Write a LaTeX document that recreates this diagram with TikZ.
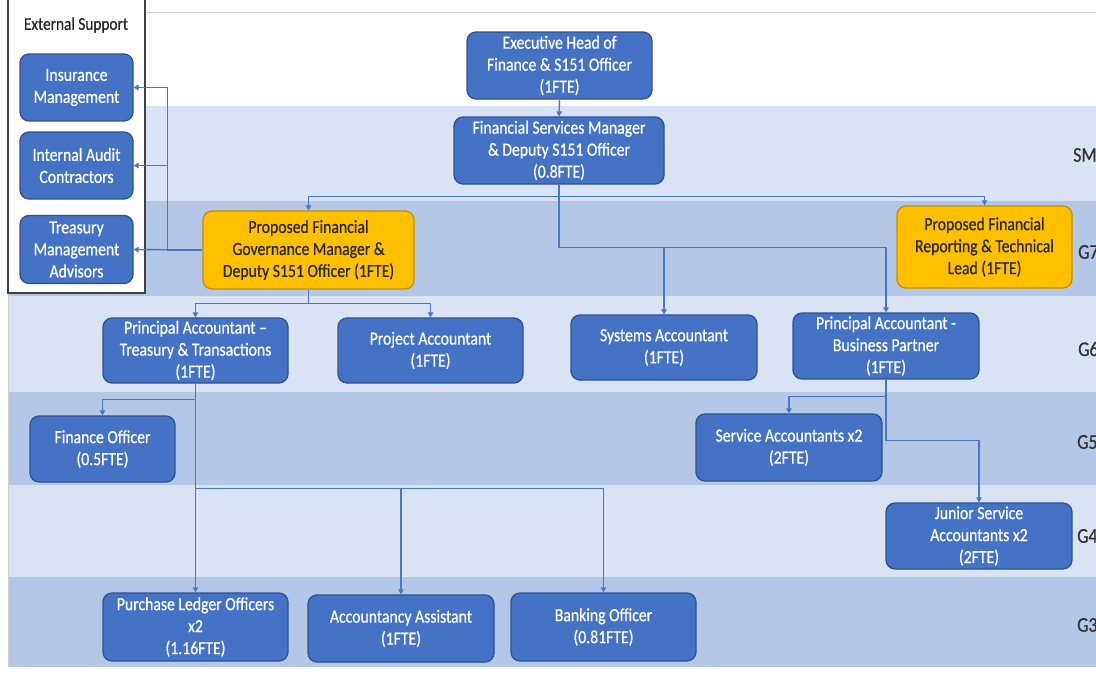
\documentclass[tikz,border=0pt]{standalone}
\usepackage{fontspec}
\setmainfont{Carlito}[FakeStretch=0.85,FakeBold=0.6]
\usetikzlibrary{arrows.meta}
\definecolor{boxblue}{HTML}{4472C4}
\definecolor{boxedge}{HTML}{2F528F}
\definecolor{gold}{HTML}{FFC000}
\definecolor{goldedge}{HTML}{BF9000}
\definecolor{bandlight}{HTML}{DAE3F3}
\definecolor{banddark}{HTML}{B4C7E7}
\definecolor{conncol}{HTML}{4A76C6}
\definecolor{framegray}{HTML}{CFCFCF}
\tikzset{
  orgbox/.style={rectangle, rounded corners=9pt, line width=1.3pt, align=center, inner sep=0pt,
    font=\fontsize{18.5}{22}\selectfont},
  bluebox/.style={orgbox, fill=boxblue, draw=boxedge, text=white},
  goldbox/.style={orgbox, fill=gold, draw=goldedge, text=black!85},
  conn/.style={draw=conncol, line width=1.4pt, -{Triangle[length=5pt,width=5.5pt]}},
  gradelabel/.style={anchor=west, inner sep=0pt, text=black!80, font=\fontsize{21}{24}\selectfont},
  bandL/.style={fill=bandlight},
  bandD/.style={fill=banddark},
}
\begin{document}
\begin{tikzpicture}[x=1pt,y=-1pt]
\useasboundingbox (0,0) rectangle (1096,688);
\clip (0,0) rectangle (1096,688);
\fill[white] (0,0) rectangle (1096,688);
% grade bands
\fill[bandL] (8,106) rectangle (1096,201);
\fill[bandD] (8,201) rectangle (1096,296);
\fill[bandL] (8,296) rectangle (1096,392);
\fill[bandD] (8,392) rectangle (1096,485);
\fill[bandL] (8,485) rectangle (1096,577);
\fill[bandD] (8,577) rectangle (1096,667);
% outer light frame
\draw[framegray, line width=1pt] (8,667) -- (8,12) -- (1096,12);
% external support frame
\draw[fill=white, draw=black!75, line width=1.3pt] (8,-5) rectangle (145,293);
\node[inner sep=0pt, text=black!85, font=\fontsize{18}{22}\selectfont] (extitle) at (76,25) {External Support};
% grade labels
\node[gradelabel] (lsm) at (1073,155) {SM};
\node[gradelabel] (lg7) at (1078,252) {G7};
\node[gradelabel] (lg6) at (1078,349) {G6};
\node[gradelabel] (lg5) at (1077,442) {G5};
\node[gradelabel] (lg4) at (1077,536) {G4};
\node[gradelabel] (lg3) at (1077,625) {G3};
% boxes
\node[bluebox, minimum width=185pt, minimum height=67pt] (exec) at (559.5,65.5) {Executive Head of\\Finance \& S151 Officer\\(1FTE)};
\node[bluebox, minimum width=210pt, minimum height=67pt] (fsm) at (559,150.5) {Financial Services Manager\\\& Deputy S151 Officer\\(0.8FTE)};
\node[goldbox, minimum width=211pt, minimum height=78pt] (gov) at (308.5,250) {Proposed Financial\\Governance Manager \&\\Deputy S151 Officer (1FTE)};
\node[goldbox, minimum width=175pt, minimum height=82pt] (rep) at (984.5,247) {Proposed Financial\\Reporting \& Technical\\Lead (1FTE)};
\node[bluebox, minimum width=113pt, minimum height=67pt] (ins) at (76.5,87.5) {Insurance\\Management};
\node[bluebox, minimum width=113pt, minimum height=67pt] (iac) at (76.5,165.5) {Internal Audit\\Contractors};
\node[bluebox, minimum width=113pt, minimum height=68pt] (tma) at (76.5,249.5) {Treasury\\Management\\Advisors};
\node[bluebox, minimum width=185pt, minimum height=65pt] (patt) at (195.5,350.5) {Principal Accountant –\\Treasury \& Transactions\\(1FTE)};
\node[bluebox, minimum width=185pt, minimum height=65pt] (proj) at (430.5,350.5) {Project Accountant\\(1FTE)};
\node[bluebox, minimum width=186pt, minimum height=65pt] (sys) at (664,347.5) {Systems Accountant\\(1FTE)};
\node[bluebox, minimum width=186pt, minimum height=66pt] (pabp) at (886,346) {Principal Accountant -\\Business Partner\\(1FTE)};
\node[bluebox, minimum width=145pt, minimum height=66pt] (fin) at (102.5,449) {Finance Officer\\(0.5FTE)};
\node[bluebox, minimum width=186pt, minimum height=67pt] (sa) at (789,447.5) {Service Accountants x2\\(2FTE)};
\node[bluebox, minimum width=186pt, minimum height=66pt] (jsa) at (979,536) {Junior Service\\Accountants x2\\(2FTE)};
\node[bluebox, minimum width=185pt, minimum height=68pt] (plo) at (195.5,627) {Purchase Ledger Officers\\x2\\(1.16FTE)};
\node[bluebox, minimum width=186pt, minimum height=67pt] (aa) at (401,628.5) {Accountancy Assistant\\(1FTE)};
\node[bluebox, minimum width=185pt, minimum height=68pt] (bo) at (603.5,627) {Banking Officer\\(0.81FTE)};
% connectors
\draw[conn] (exec.south) -- (fsm.north);
\draw[conn] (fsm.south) -- ++(0,12) -| (gov.north);
\draw[conn] (fsm.south) -- ++(0,12) -| (rep.north);
\draw[conn] (fsm.south) -- ++(0,63) -| (sys.north);
\draw[conn] (fsm.south) -- ++(0,63) -| (pabp.north);
\draw[conn] (gov.west) -- ++(-35,0) |- (ins.east);
\draw[conn] (gov.west) -- ++(-35,0) |- (iac.east);
\draw[conn] (gov.west) -- (tma.east);
\draw[conn] (gov.south) -- ++(0,14) -| (patt.north);
\draw[conn] (gov.south) -- ++(0,14) -| (proj.north);
\draw[conn] (patt.south) -- ++(0,16) -| (fin.north);
\draw[conn] (patt.south) -- (plo.north);
\draw[conn] (patt.south) -- ++(0,105) -| (aa.north);
\draw[conn] (patt.south) -- ++(0,105) -| (bo.north);
\draw[conn] (pabp.south) -- ++(0,17) -| (sa.north);
\draw[conn] (pabp.south) -- ++(0,61) -| (jsa.north);
\end{tikzpicture}
\end{document}
